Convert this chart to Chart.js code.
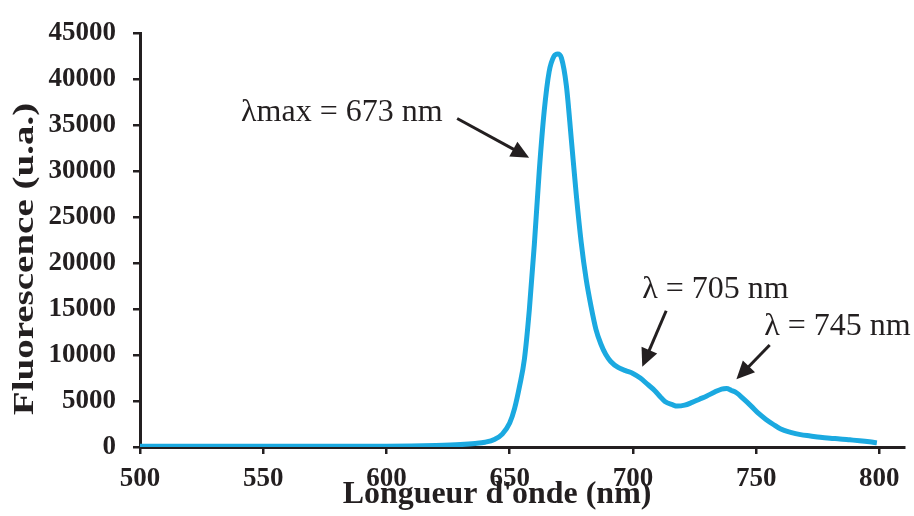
<!DOCTYPE html>
<html lang="fr">
<head>
<meta charset="utf-8">
<title>Fluorescence</title>
<script src="https://cdn.jsdelivr.net/npm/chart.js@4.4.1/dist/chart.umd.min.js"></script>
<style>
	html, body { margin: 0; padding: 0; background: #fff; }
	#wrap { width: 914px; height: 516px; position: relative; }
</style>
</head>
<body>
<div id="wrap"><canvas id="spectre"></canvas></div>
<script>
// longueurs d'onde (nm) et intensité de fluorescence (u.a.)
const wavelengths = [500, 520, 540, 560, 580, 600, 610, 620, 630, 636, 640, 644, 647, 650, 652, 654, 656, 658, 660, 662, 664, 666, 668, 669.5, 671, 673, 675, 677, 679, 681, 683, 685, 687, 689, 691, 694, 697, 700, 703, 706, 709, 711, 713, 716, 718, 721, 724, 727, 730, 733, 736, 738, 740, 742, 745, 748, 751, 754, 757, 760, 764, 768, 772, 776, 780, 784, 788, 792, 796, 799];
const fluorescence = [80, 80, 80, 80, 80, 90, 110, 160, 260, 380, 520, 850, 1400, 2600, 4200, 6600, 9600, 15000, 22000, 30000, 36500, 40800, 42500, 42750, 42300, 39300, 33500, 27500, 22300, 18300, 15300, 12800, 11200, 10050, 9300, 8650, 8300, 8000, 7500, 6800, 6100, 5500, 4950, 4600, 4450, 4550, 4850, 5200, 5550, 5950, 6300, 6350, 6150, 5900, 5200, 4450, 3650, 3000, 2450, 1950, 1600, 1350, 1200, 1050, 950, 880, 780, 680, 560, 450];
const xTicks = [500, 550, 600, 650, 700, 750, 800];
const yTicks = [0, 5000, 10000, 15000, 20000, 25000, 30000, 35000, 40000, 45000];

// annotations : texte + flèche, en coordonnées des données
const notes = [
	{ text: 'λmax = 673 nm', at: [541, 35400], from: [628.7, 35720], to: [657.9, 31460] },
	{ text: 'λ = 705 nm', at: [703.8, 16210], from: [713.5, 14820], to: [703.8, 8740] },
	{ text: 'λ = 745 nm', at: [753.3, 12160], from: [755.5, 11090], to: [742.0, 7360] }
];

const ink = '#231f20';
const serif = '"Liberation Serif", "Times New Roman", serif';

const notesPlugin = {
	id: 'notes',
	afterDraw(chart) {
		const { ctx, scales: { x, y } } = chart;
		ctx.save();
		ctx.fillStyle = ink;
		ctx.strokeStyle = ink;
		ctx.font = '32px ' + serif;
		ctx.textBaseline = 'alphabetic';
		ctx.textAlign = 'left';
		notes.forEach(n => {
			ctx.fillText(n.text, x.getPixelForValue(n.at[0]), y.getPixelForValue(n.at[1]));
			const x1 = x.getPixelForValue(n.from[0]), y1 = y.getPixelForValue(n.from[1]);
			const x2 = x.getPixelForValue(n.to[0]), y2 = y.getPixelForValue(n.to[1]);
			const a = Math.atan2(y2 - y1, x2 - x1);
			const head = 18, half = 8.5;
			ctx.lineWidth = 3;
			ctx.beginPath();
			ctx.moveTo(x1, y1);
			ctx.lineTo(x2 - Math.cos(a) * head * 0.8, y2 - Math.sin(a) * head * 0.8);
			ctx.stroke();
			ctx.beginPath();
			ctx.moveTo(x2, y2);
			ctx.lineTo(x2 - Math.cos(a) * head + Math.sin(a) * half, y2 - Math.sin(a) * head - Math.cos(a) * half);
			ctx.lineTo(x2 - Math.cos(a) * head - Math.sin(a) * half, y2 - Math.sin(a) * head + Math.cos(a) * half);
			ctx.closePath();
			ctx.fill();
		});
		// titre de l'axe horizontal (un peu décalé à gauche, comme sur la figure)
		ctx.font = 'bold 31px ' + serif;
		ctx.textAlign = 'center';
		ctx.textBaseline = 'alphabetic';
		ctx.save();
		ctx.translate(497, 503);
		ctx.scale(1.03, 1);
		ctx.fillText("Longueur d'onde (nm)", 0, 0);
		ctx.restore();
		// titre de l'axe vertical
		ctx.translate(25, 259);
		ctx.rotate(-Math.PI / 2);
		ctx.scale(1.3, 1);
		ctx.font = 'bold 30px ' + serif;
		ctx.textBaseline = 'middle';
		ctx.fillText('Fluorescence (u.a.)', 0, 0);
		ctx.restore();
	}
};

new Chart(document.getElementById('spectre'), {
	type: 'line',
	data: {
		datasets: [{
			data: wavelengths.map((w, i) => ({ x: w, y: fluorescence[i] })),
			borderColor: '#1ba9e0',
			borderWidth: 5,
			pointRadius: 0,
			cubicInterpolationMode: 'monotone',
			fill: false
		}]
	},
	options: {
		responsive: true,
		maintainAspectRatio: false,
		animation: false,
		layout: { padding: { top: 25, right: 10, left: 0, bottom: 0 } },
		plugins: { legend: { display: false }, tooltip: { enabled: false } },
		scales: {
			x: {
				type: 'linear',
				min: 500,
				max: 810,
				afterBuildTicks: s => { s.ticks = xTicks.map(v => ({ value: v })); },
				afterFit: s => { s.height = 69; },
				ticks: {
					color: ink,
					padding: 9,
					maxRotation: 0,
					callback: v => String(v),
					font: { family: serif, size: 27, weight: 'bold' }
				},
				grid: { drawOnChartArea: false, tickLength: 7, color: ink, lineWidth: 2.5 },
				border: { color: ink, width: 3 }
			},
			y: {
				min: 0,
				max: 45000,
				afterBuildTicks: s => { s.ticks = yTicks.map(v => ({ value: v })); },
				afterFit: s => { s.width = 140; },
				ticks: {
					color: ink,
					padding: 17,
					callback: v => String(v),
					font: { family: serif, size: 27, weight: 'bold' }
				},
				grid: { drawOnChartArea: false, tickLength: 7, color: ink, lineWidth: 2.5 },
				border: { color: ink, width: 3 }
			}
		}
	},
	plugins: [notesPlugin]
});
</script>
</body>
</html>
